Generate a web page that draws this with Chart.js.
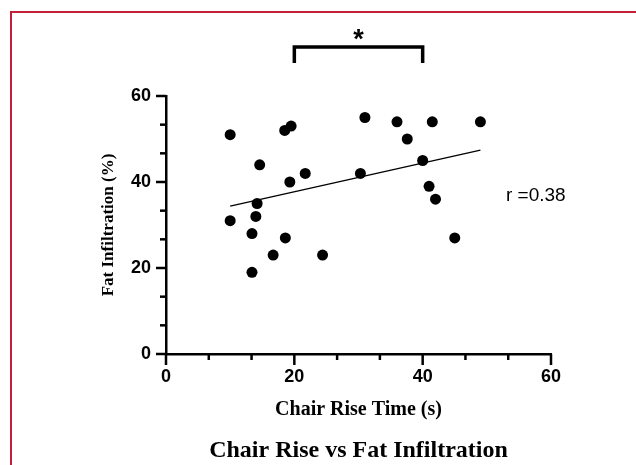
<!DOCTYPE html>
<html lang="en">
<head>
  <meta charset="UTF-8" />
  <title>Chair Rise vs Fat Infiltration</title>
  <script src="https://cdn.jsdelivr.net/npm/chart.js"></script>
  <style>
    body { margin: 0; background: #fff; }
    #wrap { position: relative; width: 636px; height: 465px; overflow: hidden; }
    #frame { position: absolute; left: 10px; top: 11px; width: 700px; height: 500px;
             border-left: 2px solid #c41e3a; border-top: 2px solid #c41e3a; pointer-events: none; }
    canvas { display: block; }
  </style>
</head>
<body>
  <div id="wrap">
    <canvas id="scatter" width="636" height="465"></canvas>
    <div id="frame"></div>
  </div>

  <script>
    // Data
    const riseTime = [10, 10, 13.4, 13.4, 14, 14.2, 14.6, 16.7, 18.5, 18.6, 19.3, 19.5,
                      21.7, 24.4, 30.3, 31, 36, 37.6, 40, 41, 41.5, 42, 45, 49];
    const fatInfil = [51, 31, 28, 19, 32, 35, 44, 23, 52, 27, 40, 53,
                      42, 23, 42, 55, 54, 50, 45, 39, 54, 36, 27, 54];
    const trendX = [10, 49];
    const trendY = [34.4, 47.4];
    const xMajor = [0, 20, 40, 60];
    const yMajor = [0, 20, 40, 60];
    const bracketX = [20, 40];
    const rLabel = 'r =0.38';

    const points = riseTime.map((x, i) => ({ x: x, y: fatInfil[i] }));
    const trend = trendX.map((x, i) => ({ x: x, y: trendY[i] }));

    // major ticks plus two minor ticks in between
    function withMinor(majors) {
      const out = [];
      for (let i = 0; i < majors.length; i++) {
        out.push({ value: majors[i] });
        if (i < majors.length - 1) {
          const step = (majors[i + 1] - majors[i]) / 3;
          out.push({ value: majors[i] + step }, { value: majors[i] + 2 * step });
        }
      }
      return out;
    }

    const tickFont = { family: 'Liberation Sans, Arial, sans-serif', size: 18, weight: 'bold' };

    // draws tick marks (long for major, short for minor), the bracket and the texts
    const extras = {
      id: 'extras',
      afterDraw(chart) {
        const ctx = chart.ctx;
        const area = chart.chartArea;
        const xs = chart.scales.x, ys = chart.scales.y;
        ctx.save();
        ctx.strokeStyle = '#000';
        ctx.lineWidth = 2.5;
        ctx.lineCap = 'butt';
        ys.ticks.forEach(t => {
          const py = ys.getPixelForValue(t.value);
          const len = t.label !== '' ? 10 : 6;
          ctx.beginPath();
          ctx.moveTo(area.left - len, py);
          ctx.lineTo(area.left, py);
          ctx.stroke();
        });
        xs.ticks.forEach(t => {
          const px = xs.getPixelForValue(t.value);
          const len = t.label !== '' ? 11 : 6;
          ctx.beginPath();
          ctx.moveTo(px, area.bottom);
          ctx.lineTo(px, area.bottom + len);
          ctx.stroke();
        });

        // significance bracket
        const bx1 = xs.getPixelForValue(bracketX[0]);
        const bx2 = xs.getPixelForValue(bracketX[1]);
        ctx.lineWidth = 3.5;
        ctx.lineJoin = 'miter';
        ctx.beginPath();
        ctx.moveTo(bx1, 63);
        ctx.lineTo(bx1, 47);
        ctx.lineTo(bx2, 47);
        ctx.lineTo(bx2, 63);
        ctx.stroke();
        ctx.fillStyle = '#000';
        ctx.font = 'bold 27px Liberation Sans, Arial, sans-serif';
        ctx.textAlign = 'center';
        ctx.textBaseline = 'alphabetic';
        ctx.fillText('*', (bx1 + bx2) / 2, 48);

        // correlation label
        ctx.font = '19px Liberation Sans, Arial, sans-serif';
        ctx.textAlign = 'left';
        ctx.textBaseline = 'middle';
        ctx.fillText(rLabel, 506, 196);

        // chart title under the plot
        ctx.font = 'bold 24px Liberation Serif, Times New Roman, serif';
        ctx.textAlign = 'center';
        ctx.fillText('Chair Rise vs Fat Infiltration', (area.left + area.right) / 2, 451);
        ctx.restore();
      }
    };

    new Chart(document.getElementById('scatter'), {
      type: 'scatter',
      data: {
        datasets: [
          {
            label: 'Subjects',
            data: points,
            backgroundColor: '#000',
            borderWidth: 0,
            pointRadius: 5.5,
            pointHoverRadius: 5.5
          },
          {
            type: 'line',
            label: 'Fit',
            data: trend,
            borderColor: '#000',
            borderWidth: 1.3,
            pointRadius: 0,
            fill: false
          }
        ]
      },
      options: {
        responsive: false,
        animation: false,
        layout: { padding: { left: 90, right: 85, top: 96, bottom: 39 } },
        plugins: {
          legend: { display: false },
          tooltip: { enabled: false }
        },
        scales: {
          x: {
            type: 'linear',
            min: 0,
            max: 60,
            afterBuildTicks: s => { s.ticks = withMinor(xMajor); },
            afterFit: s => { s.height = 72; },
            ticks: {
              color: '#000',
              font: tickFont,
              padding: 2,
              maxRotation: 0,
              autoSkip: false,
              callback: v => xMajor.includes(Math.round(v * 1000) / 1000) ? v : ''
            },
            grid: { display: true, drawOnChartArea: false, drawTicks: true, tickLength: 10, tickColor: 'rgba(0,0,0,0)' },
            border: { display: true, color: '#000', width: 2.5 },
            title: {
              display: true,
              text: 'Chair Rise Time (s)',
              color: '#000',
              font: { family: 'Liberation Serif, Times New Roman, serif', size: 20, weight: 'bold' },
              padding: { top: 4, bottom: 4 }
            }
          },
          y: {
            type: 'linear',
            min: 0,
            max: 60,
            afterBuildTicks: s => { s.ticks = withMinor(yMajor); },
            afterFit: s => { s.width = 76; },
            ticks: {
              color: '#000',
              font: tickFont,
              padding: 5,
              autoSkip: false,
              callback: v => yMajor.includes(Math.round(v * 1000) / 1000) ? v : ''
            },
            grid: { display: true, drawOnChartArea: false, drawTicks: true, tickLength: 10, tickColor: 'rgba(0,0,0,0)' },
            border: { display: true, color: '#000', width: 2.5 },
            title: {
              display: true,
              text: 'Fat Infiltration (%)',
              color: '#000',
              font: { family: 'Liberation Serif, Times New Roman, serif', size: 17, weight: 'bold' },
              padding: { top: 8, bottom: 0 }
            }
          }
        }
      },
      plugins: [extras]
    });
  </script>
</body>
</html>
